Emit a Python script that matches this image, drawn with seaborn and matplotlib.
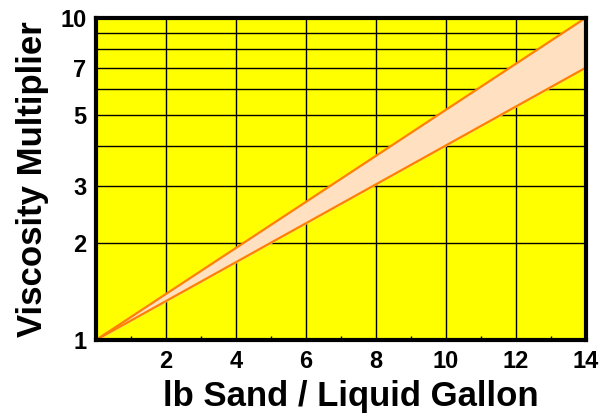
import matplotlib
matplotlib.use("Agg")
import matplotlib.pyplot as plt
import matplotlib.ticker as mticker
import pandas as pd
import seaborn as sns

# sand concentration vs viscosity multiplier band
sand = [0, 14]
upper = [1, 10]
lower = [1, 7]

ytick_vals = [1, 2, 3, 5, 7, 10]
xtick_vals = [2, 4, 6, 8, 10, 12, 14]

sns.set_style("white")
plt.rcParams['font.family'] = ['Liberation Sans', 'DejaVu Sans']
plt.rcParams['font.weight'] = 'bold'
plt.rcParams['text.color'] = 'black'
plt.rcParams['axes.labelcolor'] = 'black'
plt.rcParams['xtick.color'] = 'black'
plt.rcParams['ytick.color'] = 'black'

fig, ax = plt.subplots(figsize=(6.05, 4.16), dpi=100)
fig.subplots_adjust(left=0.159, right=0.968, top=0.957, bottom=0.183)

ax.set_facecolor('#ffff00')
ax.set_yscale('log')
ax.set_xlim(0, 14)
ax.set_ylim(1, 10)

# grid
for gx in [2, 4, 6, 8, 10, 12]:
    ax.axvline(gx, color='black', lw=1, zorder=1)
for gy in range(2, 10):
    ax.axhline(gy, color='black', lw=1, zorder=1)

df = pd.DataFrame({'sand': sand, 'upper': upper, 'lower': lower})
ax.fill_between(df['sand'], df['lower'], df['upper'], color='#ffe0c0', zorder=2)
sns.lineplot(data=df, x='sand', y='upper', color='#ff8000', lw=1.6, ax=ax, zorder=3)
sns.lineplot(data=df, x='sand', y='lower', color='#ff8000', lw=1.6, ax=ax, zorder=3)
ax.plot([14, 14], [7, 10], color='#ff8000', lw=1.6, zorder=3)

ax.yaxis.set_major_locator(mticker.FixedLocator(ytick_vals))
ax.yaxis.set_major_formatter(mticker.FixedFormatter([str(v) for v in ytick_vals]))
ax.yaxis.set_minor_locator(mticker.NullLocator())
ax.set_xticks(xtick_vals)
ax.set_xticks([1, 3, 5, 7, 9, 11, 13], minor=True)
ax.tick_params(axis='both', which='major', labelsize=17, length=0, pad=7)
ax.tick_params(axis='x', which='minor', direction='in', length=3, width=1, bottom=True)

for s in ax.spines.values():
    s.set_linewidth(3)
    s.set_color('black')
    s.set_zorder(5)

ax.set_xlabel('lb Sand / Liquid Gallon', fontsize=25, fontweight='bold', labelpad=6)
ax.set_ylabel('Viscosity Multiplier', fontsize=25, fontweight='bold', labelpad=8)
ax.xaxis.set_label_coords(0.52, -0.125)

fig.savefig('out.png', dpi=100)
